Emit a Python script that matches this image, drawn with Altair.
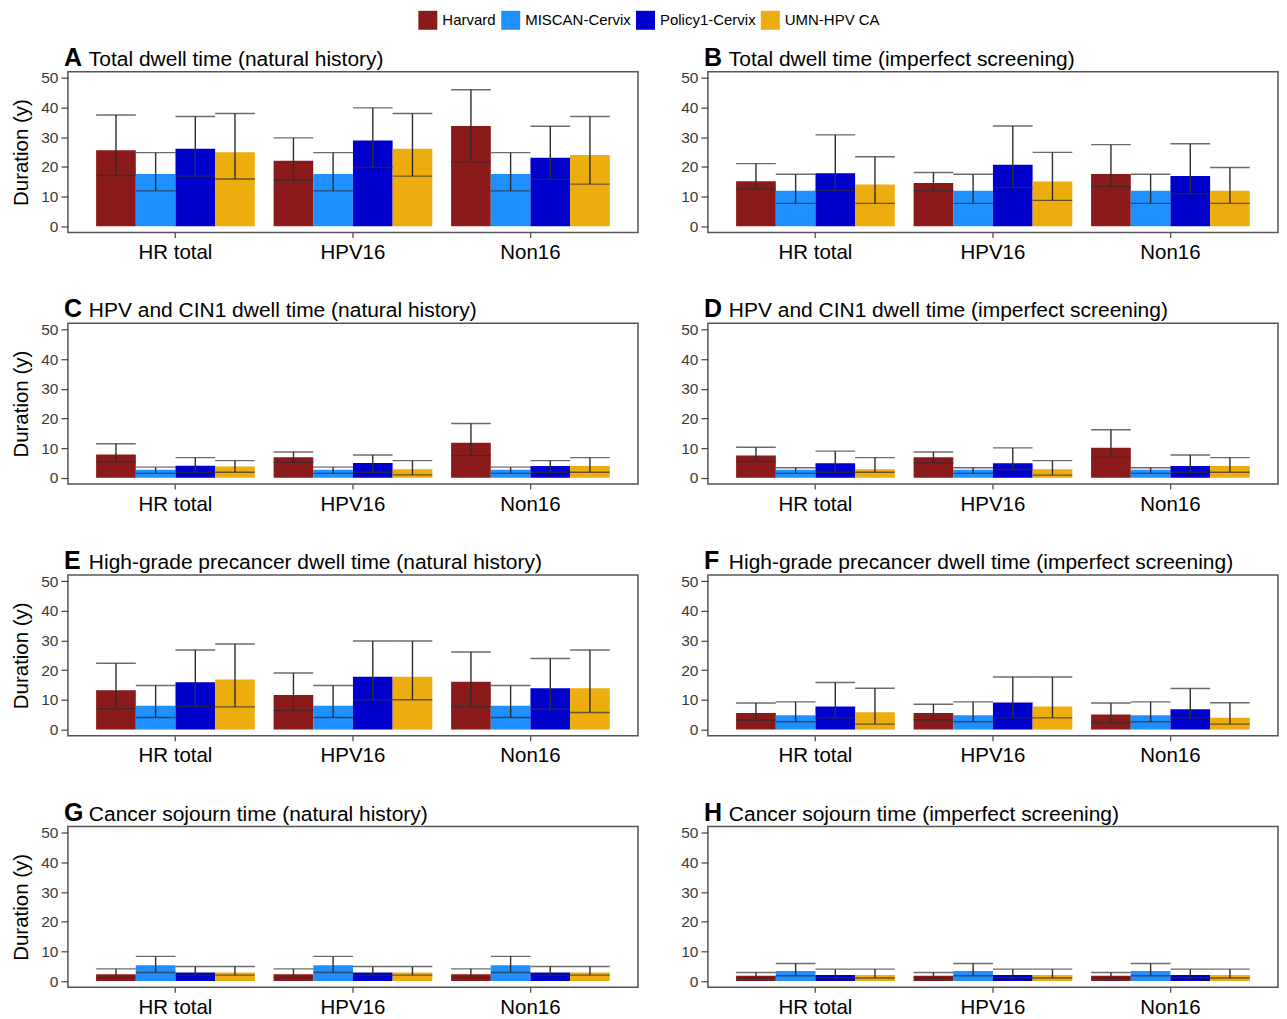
import altair as alt
import pandas as pd

models = ["Harvard", "MISCAN-Cervix", "Policy1-Cervix", "UMN-HPV CA"]
groups = ["HR total", "HPV16", "Non16"]
colors = ["#8B1A1A", "#1E90FF", "#0000CD", "#EEAD0E"]

# values ordered: for each group (HR total, HPV16, Non16), the 4 models
A_mean = [25.6, 17.6, 26.1, 24.9, 22.1, 17.6, 28.9, 26.1, 33.8, 17.6, 23.1, 24.0]
A_low = [17.1, 11.9, 16.9, 15.9, 15.5, 11.9, 19.8, 16.9, 21.7, 11.9, 15.8, 14.2]
A_high = [37.5, 24.8, 37.0, 38.0, 29.8, 24.8, 39.9, 38.0, 46.0, 24.8, 33.7, 37.0]

B_mean = [15.2, 12.0, 17.9, 14.1, 14.6, 12.0, 20.7, 15.1, 17.6, 12.0, 16.9, 12.0]
B_low = [12.6, 7.7, 12.0, 7.7, 12.0, 7.7, 13.0, 8.7, 13.4, 7.7, 10.9, 7.7]
B_high = [21.1, 17.5, 30.8, 23.4, 18.1, 17.5, 33.8, 24.9, 27.5, 17.5, 27.8, 19.8]

C_mean = [7.9, 2.7, 4.1, 3.8, 6.9, 2.7, 5.0, 2.9, 11.8, 2.7, 4.0, 4.0]
C_low = [5.4, 1.5, 1.9, 1.9, 5.2, 1.5, 1.9, 1.0, 7.5, 1.5, 1.9, 1.9]
C_high = [11.5, 3.6, 6.8, 5.8, 8.7, 3.6, 7.7, 5.8, 18.3, 3.6, 5.8, 6.8]

D_mean = [7.5, 2.7, 4.9, 2.9, 6.9, 2.7, 4.9, 2.9, 10.1, 2.7, 4.0, 4.0]
D_low = [5.5, 1.5, 1.9, 1.9, 5.0, 1.5, 2.8, 0.9, 6.9, 1.5, 1.9, 1.9]
D_high = [10.3, 3.4, 9.0, 6.8, 8.7, 3.4, 10.1, 5.8, 16.2, 3.4, 7.7, 6.8]

E_mean = [13.2, 8.0, 15.9, 16.8, 11.6, 8.0, 17.8, 17.8, 16.1, 8.0, 13.9, 13.9]
E_low = [7.0, 4.0, 7.7, 7.6, 6.4, 4.0, 10.0, 10.0, 7.7, 4.0, 6.8, 5.7]
E_high = [22.3, 14.8, 26.8, 28.8, 19.0, 14.8, 29.8, 29.8, 26.1, 14.8, 23.9, 26.8]

F_mean = [5.5, 4.8, 7.7, 5.8, 5.5, 4.8, 9.1, 7.7, 5.0, 4.8, 6.8, 3.9]
F_low = [3.1, 2.6, 3.9, 1.8, 3.2, 2.6, 3.9, 3.9, 2.3, 2.6, 3.9, 1.8]
F_high = [8.9, 9.3, 15.8, 13.9, 8.5, 9.3, 17.7, 17.7, 8.9, 9.3, 13.8, 9.0]

G_mean = [2.3, 5.3, 2.9, 2.9, 2.3, 5.3, 2.9, 2.9, 2.3, 5.3, 2.9, 2.9]
G_low = [1.2, 2.9, 2.0, 2.0, 1.2, 2.9, 2.0, 2.0, 1.2, 2.9, 2.0, 2.0]
G_high = [4.1, 8.3, 4.9, 4.9, 4.1, 8.3, 4.9, 4.9, 4.1, 8.3, 4.9, 4.9]

H_mean = [1.8, 3.4, 2.0, 2.0, 1.8, 3.4, 2.0, 2.0, 1.8, 3.4, 2.0, 2.0]
H_low = [1.0, 1.8, 1.0, 1.0, 1.0, 1.8, 1.0, 1.0, 1.0, 1.8, 1.0, 1.0]
H_high = [2.9, 5.9, 4.0, 4.0, 2.9, 5.9, 4.0, 4.0, 2.9, 5.9, 4.0, 4.0]

panels = [
    ("A", "Total dwell time (natural history)", A_mean, A_low, A_high),
    ("B", "Total dwell time (imperfect screening)", B_mean, B_low, B_high),
    ("C", "HPV and CIN1 dwell time (natural history)", C_mean, C_low, C_high),
    ("D", "HPV and CIN1 dwell time (imperfect screening)", D_mean, D_low, D_high),
    ("E", "High-grade precancer dwell time (natural history)", E_mean, E_low, E_high),
    ("F", "High-grade precancer dwell time (imperfect screening)", F_mean, F_low, F_high),
    ("G", "Cancer sojourn time (natural history)", G_mean, G_low, G_high),
    ("H", "Cancer sojourn time (imperfect screening)", H_mean, H_low, H_high),
]

FONT = "Liberation Sans"
EB = "#2e2e2e"
W = 571
H = 161
PI = 0.106
PO = 0.159
BAR_W = W / (3 - PI + 2 * PO) * (1 - PI) / 4


def make_panel(letter, title, mean, low, high, left):
    rows = []
    i = 0
    for g in groups:
        for m in models:
            rows.append(dict(group=g, model=m, mean=mean[i], low=low[i], high=high[i]))
            i += 1
    df = pd.DataFrame(rows)
    yscale = alt.Scale(domain=[-2.1, 52.1], nice=False, zero=False)
    yaxis = alt.Axis(
        values=[0, 10, 20, 30, 40, 50],
        title="Duration (y)" if left else None,
        titleFontSize=20.5, titleFont=FONT, titleFontWeight="normal", titleColor="black",
        titlePadding=9,
        domain=False, grid=False, tickSize=7, tickColor="#444", tickWidth=1.2,
        labelFontSize=15.5, labelFont=FONT, labelColor="#3a3a3a", labelPadding=3,
    )
    xenc = alt.X(
        "group:N", sort=groups,
        scale=alt.Scale(paddingInner=PI, paddingOuter=PO),
        axis=alt.Axis(title=None, labelAngle=0, domain=False, grid=False, tickSize=5,
                      tickColor="#444", tickWidth=1.2,
                      labelFontSize=20.5, labelFont=FONT, labelColor="black", labelPadding=5),
    )
    xoff = alt.XOffset("model:N", sort=models, scale=alt.Scale(paddingInner=0, paddingOuter=0))
    base = alt.Chart(df).encode(x=xenc, xOffset=xoff)
    bars = base.mark_bar().encode(
        y=alt.Y("mean:Q", scale=yscale, axis=yaxis),
        color=alt.Color("model:N", sort=models,
                        scale=alt.Scale(domain=models, range=colors),
                        legend=alt.Legend(title=None)),
    )
    rule = base.mark_rule(color=EB, strokeWidth=1.4).encode(
        y=alt.Y("low:Q", scale=yscale, axis=yaxis), y2="high:Q")
    hi = base.mark_tick(color=EB, thickness=1.4, size=BAR_W).encode(
        y=alt.Y("high:Q", scale=yscale, axis=yaxis))
    lo = base.mark_tick(color=EB, thickness=1.4, size=BAR_W).encode(
        y=alt.Y("low:Q", scale=yscale, axis=yaxis))
    tdf = pd.DataFrame({"letter": [letter], "title": [title]})
    let = alt.Chart(tdf).mark_text(align="left", baseline="alphabetic", fontSize=25,
                                   fontWeight="bold", font=FONT, color="black").encode(
        text="letter:N", x=alt.value(-4), y=alt.value(-6))
    tt = alt.Chart(tdf).mark_text(align="left", baseline="alphabetic", fontSize=21,
                                  font=FONT, color="black").encode(
        text="title:N", x=alt.value(21), y=alt.value(-6))
    return alt.layer(bars, rule, hi, lo, let, tt).properties(width=W, height=H)


charts = [make_panel(p[0], p[1], p[2], p[3], p[4], idx % 2 == 0) for idx, p in enumerate(panels)]

chart = alt.concat(*charts, columns=2, spacing={"row": 91, "column": 70}, bounds="flush").properties(
    padding={"left": 3, "top": 2, "right": 0, "bottom": 0}
).configure_view(
    stroke="#555555", strokeWidth=1.5
).configure_legend(
    orient="none", legendX=351, legendY=-61, direction="horizontal",
    symbolType="square", symbolSize=361, symbolStrokeWidth=0, symbolOpacity=1,
    labelFontSize=15, labelFont=FONT, labelColor="black", labelOffset=5,
    columnPadding=5, columns=4,
)

chart.save("out.html", embed_options={"renderer": "svg", "actions": False})
